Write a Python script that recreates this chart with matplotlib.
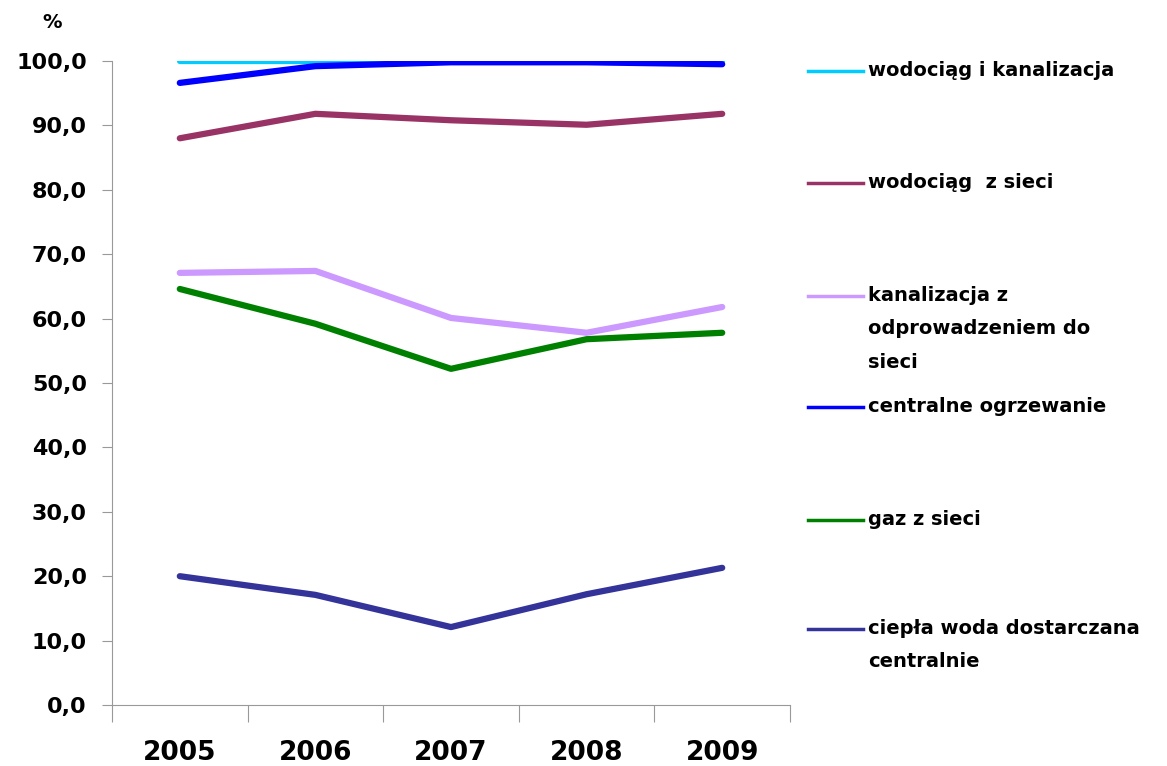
import matplotlib
matplotlib.use("Agg")
import matplotlib.pyplot as plt
from matplotlib.lines import Line2D

years = ["2005", "2006", "2007", "2008", "2009"]
series_names = [
    "wodociąg i kanalizacja",
    "wodociąg  z sieci",
    "kanalizacja z\nodprowadzeniem do\nsieci",
    "centralne ogrzewanie",
    "gaz z sieci",
    "ciepła woda dostarczana\ncentralnie",
]
wod_kan = [100.0, 100.0, 100.0, 100.0, 100.0]
wod_siec = [88.0, 91.8, 90.8, 90.1, 91.8]
kanalizacja = [67.1, 67.4, 60.1, 57.8, 61.8]
co = [96.6, 99.2, 99.8, 99.8, 99.5]
gaz = [64.6, 59.2, 52.2, 56.8, 57.8]
ciepla_woda = [20.0, 17.1, 12.1, 17.2, 21.3]
values = [wod_kan, wod_siec, kanalizacja, co, gaz, ciepla_woda]
colors = ["#00CCFF", "#993366", "#CC99FF", "#0000FF", "#008000", "#333399"]

fig = plt.figure(figsize=(11.67, 7.66), dpi=100)
ax = fig.add_axes([112 / 1167, 1 - 705 / 766, (790 - 112) / 1167, (705 - 61) / 766])

x = list(range(1, len(years) + 1))
for vals, c in zip(values, colors):
    ax.plot(x, vals, color=c, lw=4.5, solid_capstyle="round")

ax.set_xlim(0.5, 5.5)
ax.set_ylim(0, 100)
ax.set_yticks(range(0, 101, 10))
ax.set_yticklabels([f"{v},0" for v in range(0, 101, 10)], fontsize=16,
                   fontweight="bold", family="DejaVu Sans")
ax.set_xticks([i + 0.5 for i in range(0, 6)])
ax.set_xticklabels([])
ax.tick_params(axis="y", length=7, color="#999999", pad=11)
ax.tick_params(axis="x", length=12, color="#999999")
for i, yr in zip(x, years):
    ax.text(i, -0.055, yr, transform=ax.get_xaxis_transform(), ha="center", va="top",
            fontsize=19, fontweight="bold",
            family=["Liberation Sans Narrow", "DejaVu Sans"])
for s in ["top", "right"]:
    ax.spines[s].set_visible(False)
for s in ["left", "bottom"]:
    ax.spines[s].set_color("#999999")

fig.text(52 / 1167, 1 - 22 / 766, "%", ha="center", va="center", fontsize=14,
         fontweight="bold")

# legend
leg_y = [71, 183, 296, 407, 520, 629]
for name, c, yy in zip(series_names, colors, leg_y):
    fy = 1 - yy / 766
    fig.add_artist(Line2D([808 / 1167, 863 / 1167], [fy, fy], color=c, lw=2.5,
                          transform=fig.transFigure))
    fig.text(868 / 1167, fy + 10 / 766, name, ha="left", va="top", fontsize=14,
             fontweight="bold", linespacing=1.95)

fig.savefig("out.png", dpi=100)
